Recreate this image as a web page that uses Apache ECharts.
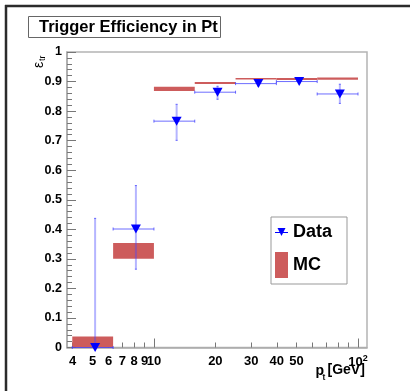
<!DOCTYPE html>
<html>
<head>
<meta charset="utf-8">
<script src="https://cdn.jsdelivr.net/npm/echarts@6/dist/echarts.min.js"></script>
<style>html,body{margin:0;padding:0;background:#fff}#c{width:410px;height:391px}</style>
</head>
<body>
<div id="c"></div>
<script>
// ---- data ----
const binLow  = [3.98, 6.31, 10.0, 15.85, 25.12, 39.81, 63.10];
const binHigh = [6.31, 10.0, 15.85, 25.12, 39.81, 63.10, 100.0];
const dataX   = [5.15, 8.16, 12.92, 20.5, 32.5, 51.5, 81.5];
const dataY   = [0.0, 0.401, 0.766, 0.864, 0.893, 0.900, 0.858];
const dataErrLow  = [0.0, 0.136, 0.065, 0.024, 0.008, 0.007, 0.032];
const dataErrHigh = [0.437, 0.147, 0.057, 0.020, 0.008, 0.007, 0.033];
const mcLow  = [0.0, 0.300, 0.868, 0.892, 0.9085, 0.905, 0.906];
const mcHigh = [0.037, 0.354, 0.882, 0.8985, 0.912, 0.912, 0.914];
const xLabelValues = [4, 5, 6, 7, 8, 9, 10, 20, 30, 40, 50, 100];
const xMinorTickValues = [4, 5, 6, 7, 8, 9, 20, 30, 40, 50, 60, 70, 80, 90];
const xMajorTickValues = [10, 100];

const FONT = '"Liberation Sans", Arial, Helvetica, sans-serif';

const mcData = binLow.map((lo, i) => [lo, binHigh[i], mcLow[i], mcHigh[i]]);
const errData = dataX.map((x, i) => [x, dataY[i], binLow[i], binHigh[i], dataY[i] - dataErrLow[i], dataY[i] + dataErrHigh[i]]);
const ptData = dataX.map((x, i) => [x, dataY[i]]);

const chart = echarts.init(document.getElementById('c'), null, {renderer: 'canvas'});

const xBase = {
  type: 'log', logBase: 10, min: 3.75, max: 110.7, gridIndex: 0, position: 'bottom',
  splitLine: {show: false}
};

const option = {
  animation: false,
  backgroundColor: '#fff',
  title: {
    text: 'Trigger Efficiency in Pt',
    left: 28, top: 17,
    padding: [2, 3, 2, 11],
    borderColor: '#666', borderWidth: 1,
    textStyle: {fontFamily: FONT, fontWeight: 'bold', fontSize: 16.5, color: '#000', lineHeight: 16}
  },
  legend: {
    orient: 'vertical', left: 271, top: 217,
    padding: [6, 15, 6, 4],
    itemWidth: 13, itemHeight: 26, itemGap: 11,
    borderColor: '#999', borderWidth: 1,
    textStyle: {fontFamily: FONT, fontWeight: 'bold', fontSize: 18, color: '#000'},
    data: [
      {name: 'Data', icon: 'path://M0,4L13,4L13,5L0,5Z M2.5,0L10.5,0L6.5,8Z', itemStyle: {color: '#0000ff'}},
      {name: 'MC', icon: 'rect', itemStyle: {color: '#cd5c5c'}}
    ]
  },
  grid: {left: 67, top: 52, width: 300, height: 295.5, show: true, borderColor: '#b4b4b4', borderWidth: 1.5},
  xAxis: [
    Object.assign({}, xBase, {
      axisLine: {lineStyle: {color: '#aaa', width: 1.5}},
      axisTick: {inside: true, length: 5, customValues: xMinorTickValues, lineStyle: {color: '#777'}},
      axisLabel: {
        customValues: xLabelValues, margin: 7,
        fontFamily: FONT, fontWeight: 'bold', fontSize: 13, color: '#000',
        formatter: v => (Math.abs(v - 100) < 1e-6 ? '{b|10}{s|2}' : String(Math.round(v))),
        rich: {b: {fontFamily: FONT, fontWeight: 'bold', fontSize: 13, color: '#000'},
               s: {fontFamily: FONT, fontWeight: 'bold', fontSize: 9, color: '#000', verticalAlign: 'top', padding: [0, 0, 6, 0]}}
      }
    }),
    Object.assign({}, xBase, {
      axisLine: {show: false},
      axisLabel: {show: false},
      axisTick: {inside: true, length: 9, customValues: xMajorTickValues, lineStyle: {color: '#777'}}
    })
  ],
  yAxis: {
    type: 'value', min: 0, max: 1, interval: 0.1,
    axisLine: {show: true, lineStyle: {color: '#aaa', width: 1.5}},
    axisTick: {show: true, inside: true, length: 9, lineStyle: {color: '#777'}},
    minorTick: {show: true, splitNumber: 5, length: 5, lineStyle: {color: '#777'}},
    splitLine: {show: false},
    axisLabel: {margin: 5, fontFamily: FONT, fontWeight: 'bold', fontSize: 12.5, color: '#000'}
  },
  graphic: [
    {type: 'line', shape: {x1: 6, y1: 5, x2: 6, y2: 391}, style: {stroke: '#2b2b2b', lineWidth: 2.5}, silent: true},
    {type: 'line', shape: {x1: 5, y1: 6, x2: 410, y2: 6}, style: {stroke: '#2b2b2b', lineWidth: 2.5}, silent: true},
    {type: 'group', x: 39, y: 68, rotation: Math.PI / 2, children: [
      {type: 'text', x: 0, y: 0, style: {text: 'ε', fontFamily: FONT, fontSize: 14, fill: '#000', align: 'left', verticalAlign: 'middle'}},
      {type: 'text', x: 7, y: 3.5, style: {text: 'tr', fontFamily: FONT, fontSize: 9, fill: '#000', align: 'left', verticalAlign: 'middle'}}
    ]},
    {type: 'text', x: 315.5, y: 371, style: {text: 'p', fontFamily: FONT, fontWeight: 'bold', fontSize: 14, fill: '#000', align: 'left', verticalAlign: 'middle'}},
    {type: 'text', x: 322.5, y: 378, style: {text: 't', fontFamily: FONT, fontWeight: 'bold', fontSize: 8.5, fill: '#000', align: 'left', verticalAlign: 'middle'}},
    {type: 'text', x: 327.5, y: 370.5, style: {text: '[GeV]', fontFamily: FONT, fontWeight: 'bold', fontSize: 14, fill: '#000', align: 'left', verticalAlign: 'middle'}}
  ],
  series: [
    {
      name: 'MC', type: 'custom', xAxisIndex: 0, yAxisIndex: 0,
      itemStyle: {color: '#cd5c5c'},
      encode: {x: [0, 1], y: [2, 3]},
      data: mcData,
      renderItem: function (params, api) {
        const p0 = api.coord([api.value(0), api.value(3)]);
        const p1 = api.coord([api.value(1), api.value(2)]);
        const h = Math.max(p1[1] - p0[1], 1.5);
        return {type: 'rect', shape: {x: p0[0], y: p0[1], width: p1[0] - p0[0], height: h},
                style: {fill: '#cd5c5c'}};
      },
      z: 2
    },
    {
      name: 'errors', type: 'custom', xAxisIndex: 0, yAxisIndex: 0,
      encode: {x: [0, 2, 3], y: [1, 4, 5]},
      data: errData,
      clip: false,
      renderItem: function (params, api) {
        const c = api.coord([api.value(0), api.value(1)]);
        const l = api.coord([api.value(2), api.value(1)]);
        const r = api.coord([api.value(3), api.value(1)]);
        const lo = api.coord([api.value(0), api.value(4)]);
        const hi = api.coord([api.value(0), api.value(5)]);
        const hs = {stroke: 'rgba(60,60,255,0.75)', lineWidth: 1};
        const vs = {stroke: 'rgba(70,70,255,0.4)', lineWidth: 2};
        const cap = {stroke: 'rgba(60,60,255,0.75)', lineWidth: 1};
        const children = [
          {type: 'line', shape: {x1: l[0], y1: c[1], x2: r[0], y2: c[1]}, style: hs},
          {type: 'line', shape: {x1: l[0], y1: c[1] - 1.5, x2: l[0], y2: c[1] + 1.5}, style: cap},
          {type: 'line', shape: {x1: r[0], y1: c[1] - 1.5, x2: r[0], y2: c[1] + 1.5}, style: cap}
        ];
        if (hi[1] < lo[1] - 0.5) {
          children.push({type: 'line', shape: {x1: c[0], y1: lo[1], x2: c[0], y2: hi[1]}, style: vs});
          children.push({type: 'line', shape: {x1: c[0] - 1, y1: hi[1], x2: c[0] + 1, y2: hi[1]}, style: cap});
          if (lo[1] < c[1] - 0.5 || lo[1] > c[1] + 0.5) {
            children.push({type: 'line', shape: {x1: c[0] - 1, y1: lo[1], x2: c[0] + 1, y2: lo[1]}, style: cap});
          }
        }
        return {type: 'group', children: children};
      },
      z: 3
    },
    {
      name: 'Data', type: 'scatter', xAxisIndex: 0, yAxisIndex: 0,
      symbol: 'triangle', symbolRotate: 180, symbolSize: [10, 9],
      itemStyle: {color: '#0000ff', opacity: 1},
      clip: false,
      data: ptData,
      z: 4
    }
  ]
};
chart.setOption(option);
</script>
</body>
</html>
